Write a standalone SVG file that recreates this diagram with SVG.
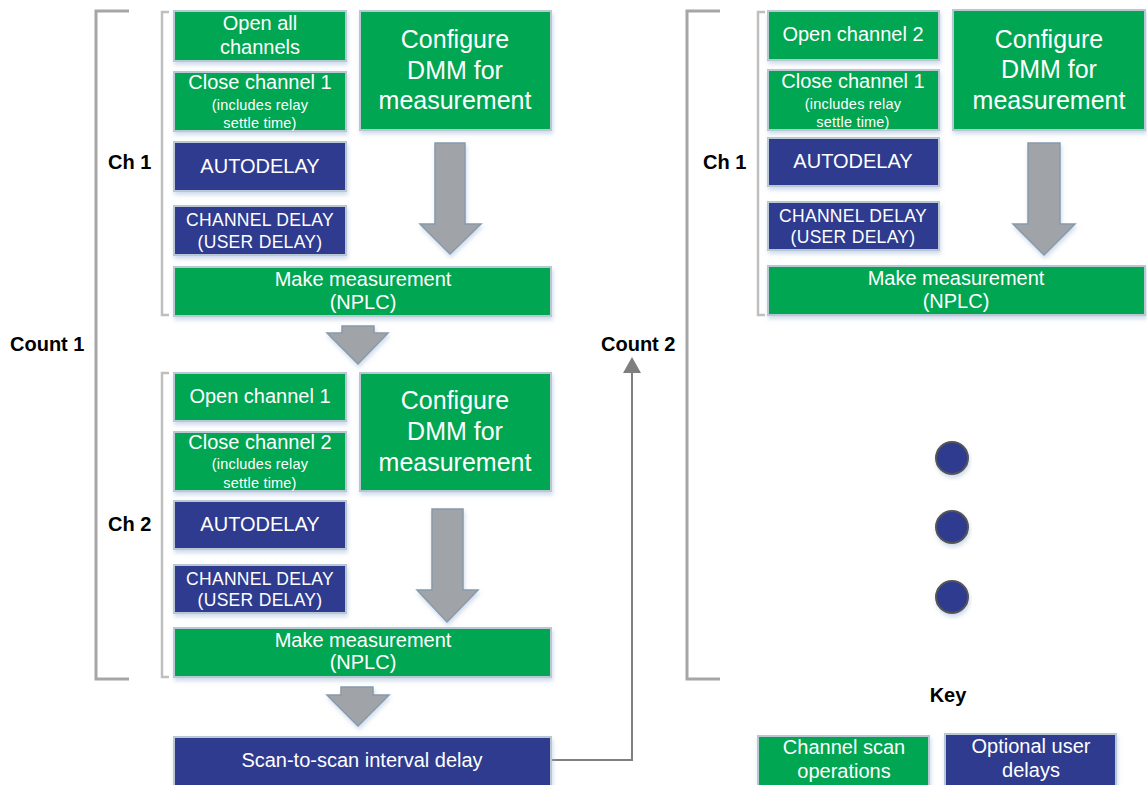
<svg xmlns="http://www.w3.org/2000/svg" width="1147" height="785" viewBox="0 0 1147 785">
<defs>
<filter id="sh" x="-10%" y="-10%" width="120%" height="130%">
<feDropShadow dx="1" dy="3" stdDeviation="2" flood-color="#9fb8d8" flood-opacity="0.5"/>
</filter>
<marker id="ah" viewBox="0 0 16 18" refX="0" refY="9" markerWidth="16" markerHeight="18" markerUnits="userSpaceOnUse" orient="auto">
<path d="M0,0 L16,9 L0,18 Z" fill="#7f7f7f"/>
</marker>
</defs>
<style>
.g{fill:#00a651;stroke:#b9c7d2;stroke-width:2;filter:url(#sh)}
.b{fill:#2e3a8f;stroke:#b9c7d2;stroke-width:2;filter:url(#sh)}
.t{font-family:"Liberation Sans",Arial,sans-serif;fill:#fff;text-anchor:middle;font-size:20px}
.s{font-size:14.5px;letter-spacing:0.2px}
.c{font-size:25px}
.d{font-size:17.5px;letter-spacing:0.3px}
.l{font-family:"Liberation Sans",Arial,sans-serif;fill:#000;font-weight:bold;font-size:20px}
.br{fill:none;stroke:#a6a6a6;stroke-width:3}
.bs{fill:none;stroke:#bfbfbf;stroke-width:2.5}
.ar{fill:#a0a4a8;stroke:#8899aa;stroke-width:1.5;filter:url(#sh)}
.dot{fill:#2e3a8f;stroke:#555;stroke-width:2;filter:url(#sh)}
</style>

<g id="brackets">
<path class="br" d="M129,11 H96 V679 H129"/>
<path class="bs" d="M169,12 H162 V315 H169"/>
<path class="bs" d="M169,373 H162 V677 H169"/>
<path class="br" d="M720,11 H687 V679 H720"/>
<path class="bs" d="M765,12 H758 V315 H765"/>
</g>

<g id="labels">
<text class="l" x="10" y="351">Count 1</text>
<text class="l" x="601" y="351">Count 2</text>
<text class="l" x="108" y="169">Ch 1</text>
<text class="l" x="108" y="531">Ch 2</text>
<text class="l" x="703" y="169">Ch 1</text>
<text class="l" x="948" y="702" text-anchor="middle">Key</text>
</g>

<g id="connectors">
<path class="ar" d="M435,143 H465 V224 H481 L450,254 L420,224 H435 Z"/>
<path class="ar" d="M342,326 H374 V333 H388 L358,364 L327,333 H342 Z"/>
<path class="ar" d="M432,509 H463 V590 H478 L447,622 L417,590 H432 Z"/>
<path class="ar" d="M341,687 H373 V695 H389 L358,726 L327,695 H341 Z"/>
<path class="ar" d="M1028,143 H1060 V224 H1075 L1044,255 L1013,224 H1028 Z"/>
<path d="M551,760 H632 V373" fill="none" stroke="#7f7f7f" stroke-width="2" marker-end="url(#ah)"/>
</g>

<g id="n-open-all">
<rect class="g" x="174" y="11" width="172" height="50"/>
<text class="t" x="260" y="30">Open all</text>
<text class="t" x="260" y="54">channels</text>
</g>
<g id="n-close-ch1">
<rect class="g" x="174" y="72" width="172" height="59"/>
<text class="t" x="260" y="89">Close channel 1</text>
<text class="t s" x="260" y="110">(includes relay</text>
<text class="t s" x="260" y="128">settle time)</text>
</g>
<g id="n-autodelay-1">
<rect class="b" x="174" y="142" width="172" height="49"/>
<text class="t" x="260" y="173">AUTODELAY</text>
</g>
<g id="n-chdelay-1">
<rect class="b" x="174" y="206" width="172" height="49"/>
<text class="t d" x="260" y="226">CHANNEL DELAY</text>
<text class="t d" x="260" y="248">(USER DELAY)</text>
</g>
<g id="n-config-1">
<rect class="g" x="360" y="11" width="191" height="119"/>
<text class="t c" x="455" y="48">Configure</text>
<text class="t c" x="455" y="79">DMM for</text>
<text class="t c" x="455" y="109">measurement</text>
</g>
<g id="n-meas-1">
<rect class="g" x="174" y="267" width="377" height="49"/>
<text class="t" x="363" y="286">Make measurement</text>
<text class="t" x="363" y="309">(NPLC)</text>
</g>

<g id="n-open-ch1">
<rect class="g" x="174" y="373" width="172" height="48"/>
<text class="t" x="260" y="403">Open channel 1</text>
</g>
<g id="n-close-ch2">
<rect class="g" x="174" y="432" width="172" height="59"/>
<text class="t" x="260" y="449">Close channel 2</text>
<text class="t s" x="260" y="469">(includes relay</text>
<text class="t s" x="260" y="488">settle time)</text>
</g>
<g id="n-autodelay-2">
<rect class="b" x="174" y="501" width="172" height="48"/>
<text class="t" x="260" y="531">AUTODELAY</text>
</g>
<g id="n-chdelay-2">
<rect class="b" x="174" y="565" width="172" height="48"/>
<text class="t d" x="260" y="585">CHANNEL DELAY</text>
<text class="t d" x="260" y="606">(USER DELAY)</text>
</g>
<g id="n-config-2">
<rect class="g" x="360" y="373" width="191" height="118"/>
<text class="t c" x="455" y="409">Configure</text>
<text class="t c" x="455" y="440">DMM for</text>
<text class="t c" x="455" y="471">measurement</text>
</g>
<g id="n-meas-2">
<rect class="g" x="174" y="628" width="377" height="49"/>
<text class="t" x="363" y="647">Make measurement</text>
<text class="t" x="363" y="669">(NPLC)</text>
</g>

<g id="n-scan">
<rect class="b" x="174" y="737" width="377" height="52"/>
<text class="t" x="362" y="767">Scan-to-scan interval delay</text>
</g>

<g id="n-open-ch2">
<rect class="g" x="768" y="11" width="171" height="49"/>
<text class="t" x="853" y="41">Open channel 2</text>
</g>
<g id="n-close-ch1-r">
<rect class="g" x="768" y="70" width="171" height="60"/>
<text class="t" x="853" y="88">Close channel 1</text>
<text class="t s" x="853" y="109">(includes relay</text>
<text class="t s" x="853" y="127">settle time)</text>
</g>
<g id="n-autodelay-r">
<rect class="b" x="768" y="138" width="171" height="48"/>
<text class="t" x="853" y="168">AUTODELAY</text>
</g>
<g id="n-chdelay-r">
<rect class="b" x="768" y="202" width="171" height="48"/>
<text class="t d" x="853" y="222">CHANNEL DELAY</text>
<text class="t d" x="853" y="243">(USER DELAY)</text>
</g>
<g id="n-config-r">
<rect class="g" x="953" y="10" width="192" height="120"/>
<text class="t c" x="1049" y="48">Configure</text>
<text class="t c" x="1049" y="78">DMM for</text>
<text class="t c" x="1049" y="109">measurement</text>
</g>
<g id="n-meas-r">
<rect class="g" x="768" y="266" width="377" height="49"/>
<text class="t" x="956" y="285">Make measurement</text>
<text class="t" x="956" y="308">(NPLC)</text>
</g>

<g id="dots">
<circle class="dot" cx="952" cy="458" r="16"/>
<circle class="dot" cx="952" cy="527" r="16"/>
<circle class="dot" cx="952" cy="597" r="16"/>
</g>

<g id="key-green">
<rect class="g" x="758" y="736" width="171" height="53"/>
<text class="t" x="844" y="754">Channel scan</text>
<text class="t" x="844" y="778">operations</text>
</g>
<g id="key-blue">
<rect class="b" x="945" y="734" width="171" height="55"/>
<text class="t" x="1031" y="753">Optional user</text>
<text class="t" x="1031" y="777">delays</text>
</g>
</svg>
